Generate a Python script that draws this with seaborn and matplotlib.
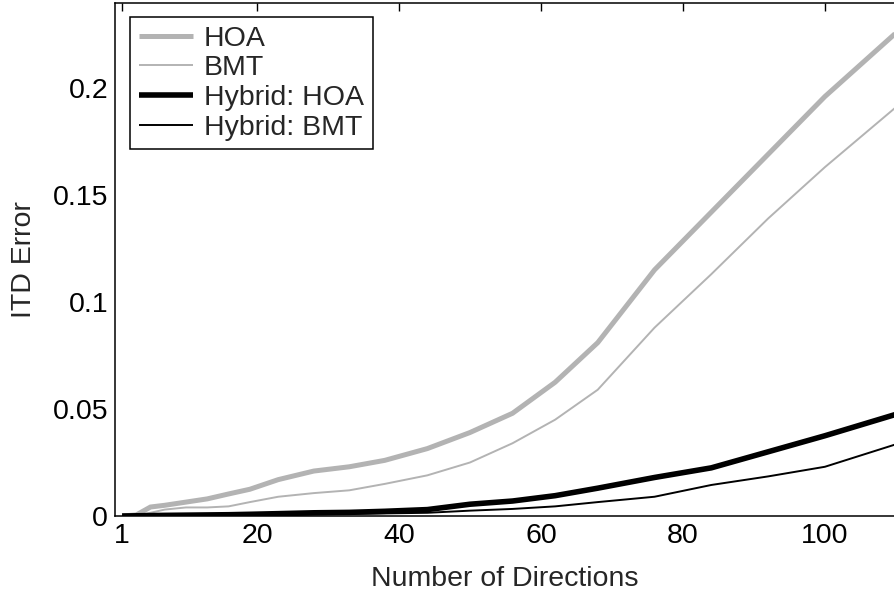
import numpy as np
import pandas as pd
import matplotlib
matplotlib.use("Agg")
import matplotlib.pyplot as plt
import seaborn as sns

directions = [1, 3, 5, 7, 10, 13, 16, 19, 23, 28, 33, 38, 44, 50, 56, 62, 68, 76, 84, 92, 100, 110]
hoa = [0, 0.0005, 0.0042, 0.005, 0.0065, 0.008, 0.0103, 0.0125, 0.017, 0.021, 0.023, 0.026,
       0.0315, 0.039, 0.048, 0.0625, 0.081, 0.115, 0.142, 0.169, 0.196, 0.2257]
bmt = [0, 0.0003, 0.0015, 0.003, 0.004, 0.004, 0.0045, 0.0065, 0.009, 0.0107, 0.012, 0.015,
       0.019, 0.025, 0.034, 0.045, 0.059, 0.088, 0.113, 0.139, 0.163, 0.191]
hyb_hoa = [0, 0.0001, 0.0002, 0.0003, 0.0004, 0.0005, 0.0006, 0.0008, 0.0011, 0.0015, 0.0017, 0.0022,
           0.003, 0.0055, 0.007, 0.0095, 0.013, 0.018, 0.0225, 0.030, 0.0375, 0.0475]
hyb_bmt = [0, 0.0001, 0.0001, 0.0002, 0.0003, 0.0003, 0.0004, 0.0005, 0.0006, 0.0008, 0.001, 0.0012,
           0.0015, 0.0025, 0.0033, 0.0045, 0.0065, 0.009, 0.0145, 0.0185, 0.023, 0.0335]
series_names = ["HOA", "BMT", "Hybrid: HOA", "Hybrid: BMT"]
xticks = [1, 20, 40, 60, 80, 100]
yticks = [0, 0.05, 0.1, 0.15, 0.2]
ytick_labels = ["0", "0.05", "0.1", "0.15", "0.2"]

sns.set_style("white")
plt.rcParams['font.family'] = ['Liberation Sans', 'DejaVu Sans']
FS = 20.5

fig = plt.figure(figsize=(8.94, 5.92), dpi=100)
ax = fig.add_axes([115/894, 1 - 516/592, (894 - 115)/894, (516 - 3)/592])

styles = {
    "HOA": dict(color="#b3b3b3", lw=3.6),
    "BMT": dict(color="#b3b3b3", lw=1.4),
    "Hybrid: HOA": dict(color="black", lw=4.0),
    "Hybrid: BMT": dict(color="black", lw=1.4),
}
values = [hoa, bmt, hyb_hoa, hyb_bmt]
for name, vals in zip(series_names, values):
    df = pd.DataFrame({"x": directions, "y": vals})
    sns.lineplot(data=df, x="x", y="y", ax=ax, label=name,
                 solid_joinstyle="miter", solid_capstyle="butt", **styles[name])

ax.set_xlim(0, 1 + (894 - 122) / 7.1)
ax.set_ylim(0, 0.2397)
ax.set_xticks(xticks)
ax.set_yticks(yticks)
ax.set_yticklabels(ytick_labels)
ax.tick_params(direction="in", length=6, width=1, top=True, right=False,
               labelsize=FS, pad=5, colors="black")
for s in ax.spines.values():
    s.set_color("black")
    s.set_linewidth(1.1)
ax.spines["right"].set_visible(False)
ax.set_xlabel("Number of Directions", fontsize=FS, labelpad=12)
ax.set_ylabel("ITD Error", fontsize=FS, labelpad=11)

leg = ax.legend(loc="upper left", bbox_to_anchor=((130 - 115) / 779, 1 - (17 - 3) / 513),
                borderaxespad=0, fontsize=FS, frameon=True, fancybox=False,
                handlelength=1.9, handletextpad=0.4, labelspacing=0.13, borderpad=0.3)
leg.get_frame().set_edgecolor("black")
leg.get_frame().set_linewidth(1.1)
leg.get_frame().set_alpha(1)

fig.savefig("out.png", dpi=100)
